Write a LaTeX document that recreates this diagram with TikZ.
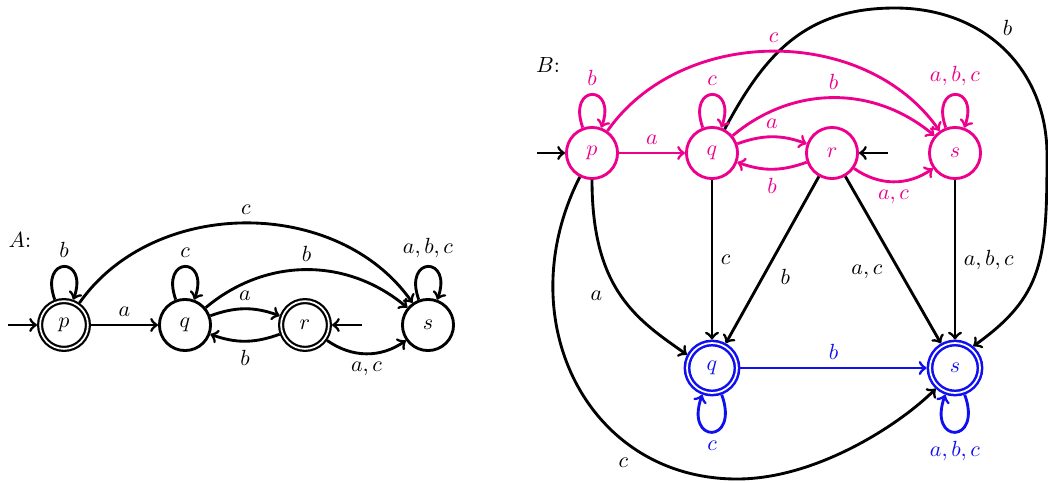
\documentclass[tikz,border=0pt]{standalone}
\definecolor{pinkc}{RGB}{236,0,140}
\definecolor{bluec}{RGB}{15,15,240}
\begin{document}
\begin{tikzpicture}[x=0.016cm,y=-0.016cm,
  st/.style={circle,draw,line width=1.3pt,minimum size=0.818cm,inner sep=0pt,outer sep=0.65pt},
  acc/.style={circle,draw,line width=1pt,double,double distance=0.8pt,minimum size=0.765cm,inner sep=0pt,outer sep=1.4pt},
  accb/.style={circle,draw,line width=1.15pt,double,double distance=0.8pt,minimum size=0.8cm,inner sep=0pt,outer sep=1.55pt},
  tr/.style={->,line width=1.3pt}]
\useasboundingbox (0,0) rectangle (1048,482);
% ---------------- A ----------------
\node (Alab) at (20,240) {$A$:};
\node[acc] (Ap) at (64,325) {$p$};
\node[st] (Aq) at (185,325) {$q$};
\node[acc] (Ar) at (305,325) {$r$};
\node[st] (As) at (428,325) {$s$};
\coordinate (Ai1) at (8,325);
\coordinate (Ai2) at (362,325);
\draw[tr] (Ai1) -- (Ap);
\draw[tr] (Ai2) -- (Ar);
\draw[tr] (Ap.110) .. controls +(110:7.5mm) and +(70:7.5mm) .. (Ap.70) node[pos=0.5,above]{$b$};
\draw[tr] (Aq.110) .. controls +(110:7.5mm) and +(70:7.5mm) .. (Aq.70) node[pos=0.5,above]{$c$};
\draw[tr] (As.110) .. controls +(110:7.5mm) and +(70:7.5mm) .. (As.70) node[pos=0.5,above]{$a,b,c$};
\draw[tr] (Ap) -- node[above]{$a$} (Aq);
\draw[tr] (Aq) to[bend left=20] node[above]{$a$} (Ar);
\draw[tr] (Ar) to[bend left=20] node[below]{$b$} (Aq);
\draw[tr] (Aq) to[bend left=40] node[above]{$b$} (As);
\draw[tr] (Ap) to[bend left=55] node[above]{$c$} (As);
\draw[tr] (Ar) to[bend right=35] node[below]{$a,c$} (As);
% ---------------- B ----------------
\node (Blab) at (548,65) {$B$:};
\node[st,pinkc] (Bp) at (592,153) {$p$};
\node[st,pinkc] (Bq) at (712,153) {$q$};
\node[st,pinkc] (Br) at (832,153) {$r$};
\node[st,pinkc] (Bs) at (955,153) {$s$};
\node[accb,bluec] (Bq2) at (712,368) {$q$};
\node[accb,bluec] (Bs2) at (955,368) {$s$};
\coordinate (Bi1) at (537,153);
\coordinate (Bi2) at (888,153);
\coordinate (Bbot) at (737,479);
\coordinate (Btop) at (895,8);
\coordinate (Bright) at (1047,155);
\draw[tr] (Bi1) -- (Bp);
\draw[tr] (Bi2) -- (Br);
% black edges
\draw[tr] (Bp.-117) .. controls +(-72,142) and +(-150,0) .. (Bbot) node[pos=0.7,below=4pt]{$c$}
  .. controls +(80,0) and +(-35,35) .. (Bs2.-133);
\draw[tr] (Bq.62) .. controls +(40,-75) and +(-90,0) .. (Btop)
  .. controls +(90,0) and +(0,-85) .. (Bright) node[pos=0.45,above right=-1pt]{$b$}
  .. controls +(0,105) and +(70,-50) .. (Bs2.50);
\draw[tr] (Bp.south) .. controls +(0,110) and +(-50,-35) .. (Bq2.152) node[pos=0.5,left=4.4pt]{$a$};
\draw[tr] (Bq) -- node[right]{$c$} (Bq2);
\draw[tr] (Br) -- node[pos=0.6,right=4pt]{$b$} (Bq2);
\draw[tr] (Br) -- node[pos=0.57,left=4pt]{$a,c$} (Bs2);
\draw[tr] (Bs) -- node[right]{$a,b,c$} (Bs2);
% pink edges
\draw[tr,pinkc] (Bp.110) .. controls +(110:7.5mm) and +(70:7.5mm) .. (Bp.70) node[pos=0.5,above]{$b$};
\draw[tr,pinkc] (Bq.110) .. controls +(110:7.5mm) and +(70:7.5mm) .. (Bq.70) node[pos=0.5,above]{$c$};
\draw[tr,pinkc] (Bs.110) .. controls +(110:7.5mm) and +(70:7.5mm) .. (Bs.70) node[pos=0.5,above]{$a,b,c$};
\draw[tr,pinkc] (Bp) -- node[above]{$a$} (Bq);
\draw[tr,pinkc] (Bq) to[bend left=20] node[above]{$a$} (Br);
\draw[tr,pinkc] (Br) to[bend left=20] node[below]{$b$} (Bq);
\draw[tr,pinkc] (Bq) to[bend left=40] node[above]{$b$} (Bs);
\draw[tr,pinkc] (Bp) to[bend left=55] node[above]{$c$} (Bs);
\draw[tr,pinkc] (Br) to[bend right=35] node[below]{$a,c$} (Bs);
% blue edges
\draw[tr,bluec] (Bq2) -- node[above]{$b$} (Bs2);
\draw[tr,bluec] (Bq2.-70) .. controls +(-70:8.5mm) and +(-110:8.5mm) .. (Bq2.-110) node[pos=0.5,below]{$c$};
\draw[tr,bluec] (Bs2.-70) .. controls +(-70:8.5mm) and +(-110:8.5mm) .. (Bs2.-110) node[pos=0.5,below]{$a,b,c$};
\end{tikzpicture}
\end{document}
